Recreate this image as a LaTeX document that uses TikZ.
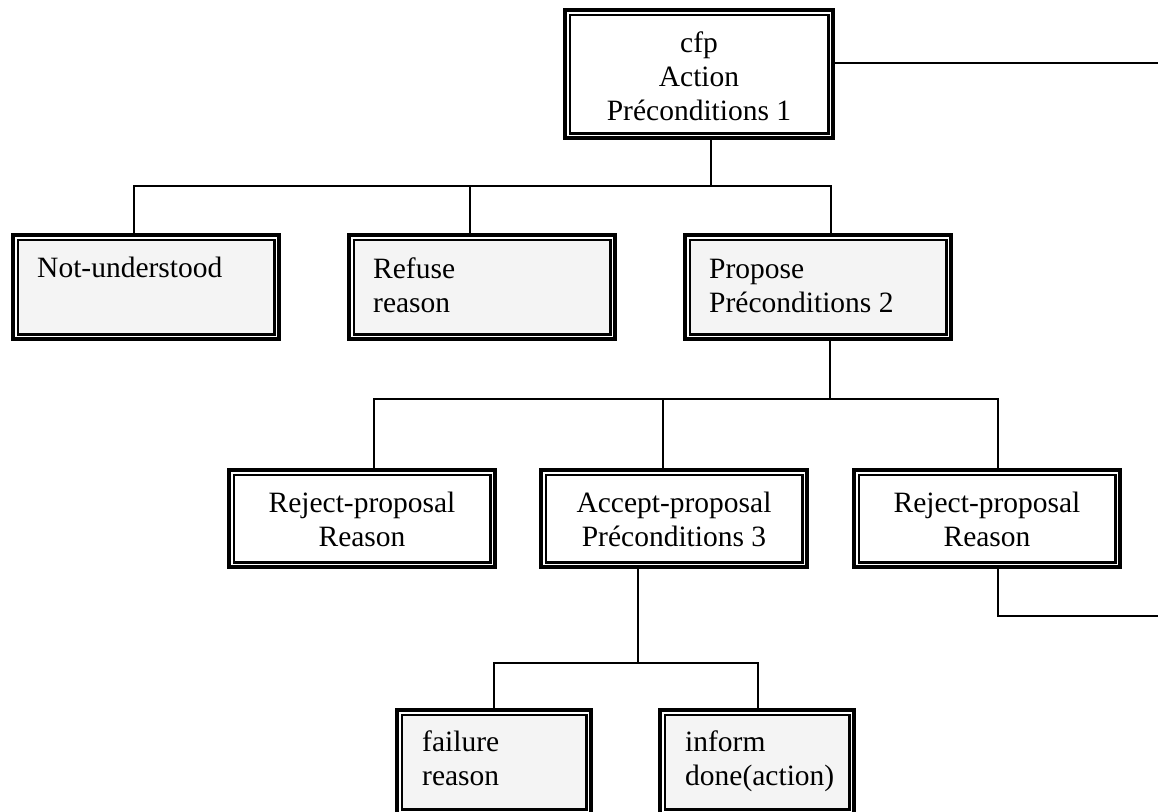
\documentclass[tikz,border=0pt]{standalone}
\usepackage{fontspec}
\setmainfont{Liberation Serif}
\begin{document}
\begin{tikzpicture}[x=1pt,y=-1pt,
  frm/.style={rectangle, inner sep=0pt, minimum width=270pt, minimum height=108pt},
  low/.style={minimum height=101pt},
  conn/.style={line width=2.3pt, line join=miter},
  lbl/.style={inner sep=0pt, font=\fontsize{29.5pt}{34pt}\selectfont}
]
\useasboundingbox (0,0) rectangle (1158,811);
\clip (0,0) rectangle (1158,811);

% boxes
\node[frm, minimum width=272pt, minimum height=132pt] (cfp) at (699,74) {};
\node[frm] (nu)  at (146,287) {};
\node[frm] (rf)  at (482,287) {};
\node[frm] (pr)  at (818,287) {};
\node[frm, low] (rj1) at (362,518.5) {};
\node[frm, low] (ac)  at (674,518.5) {};
\node[frm, low] (rj2) at (987,518.5) {};
\node[frm, minimum width=198pt] (fa)  at (494,762) {};
\node[frm, minimum width=198pt] (inf) at (757,762) {};

% double frames: thick outer line, thin inner line, optional shading
\foreach \n/\f in {cfp/white, nu/gray!9, rf/gray!9, pr/gray!9, rj1/white,
                   ac/white, rj2/white, fa/gray!9, inf/gray!9} {
  \fill[fill=\f] ([shift={(7pt,-7pt)}]\n.north west) rectangle ([shift={(-7pt,7pt)}]\n.south east);
  \draw[line width=4pt] ([shift={(2pt,-2pt)}]\n.north west) rectangle ([shift={(-2pt,2pt)}]\n.south east);
  \draw[line width=2.6pt] ([shift={(7pt,-7pt)}]\n.north west) rectangle ([shift={(-7pt,7pt)}]\n.south east);
}

% junction points and free ends
\coordinate (j1) at (711,186);
\coordinate (j2) at (830,399);
\coordinate (j3) at (638,663);
\coordinate (e1) at (1158,63);
\coordinate (e2) at (1158,616);

% connectors
\draw[conn] (cfp.south -| j1) -- (j1);
\draw[conn] ([xshift=-12pt]nu.north) |- (j1) -| ([xshift=13pt]pr.north);
\draw[conn] ([xshift=-12pt]rf.north) -- ([xshift=-12pt]rf.north |- j1);
\draw[conn] (cfp.east |- e1) -- (e1);
\draw[conn] (pr.south -| j2) -- (j2);
\draw[conn] ([xshift=12pt]rj1.north) |- (j2) -| ([xshift=11pt]rj2.north);
\draw[conn] ([xshift=-11pt]ac.north) -- ([xshift=-11pt]ac.north |- j2);
\draw[conn] (ac.south -| j3) -- (j3);
\draw[conn] (fa.north) |- (j3) -| ([xshift=1pt]inf.north);
\draw[conn] ([xshift=11pt]rj2.south) |- (e2);

% texts (base anchor sits on the last line)
\node[lbl, anchor=base, align=center] (tcfp) at (699,120) {cfp\\Action\\Préconditions 1};
\node[lbl, anchor=base west, align=left] (tnu) at (37,277) {Not-understood};
\node[lbl, anchor=base west, align=left] (trf) at (373,312) {Refuse\\reason};
\node[lbl, anchor=base west, align=left] (tpr) at (709,312) {Propose\\Préconditions 2};
\node[lbl, anchor=base, align=center] (trj1) at (362,546) {Reject-proposal\\Reason};
\node[lbl, anchor=base, align=center] (tac) at (674,546) {Accept-proposal\\Préconditions 3};
\node[lbl, anchor=base, align=center] (trj2) at (987,546) {Reject-proposal\\Reason};
\node[lbl, anchor=base west, align=left] (tfa) at (422,785) {failure\\reason};
\node[lbl, anchor=base west, align=left] (tinf) at (685,785) {inform\\done(action)};
\end{tikzpicture}
\end{document}
